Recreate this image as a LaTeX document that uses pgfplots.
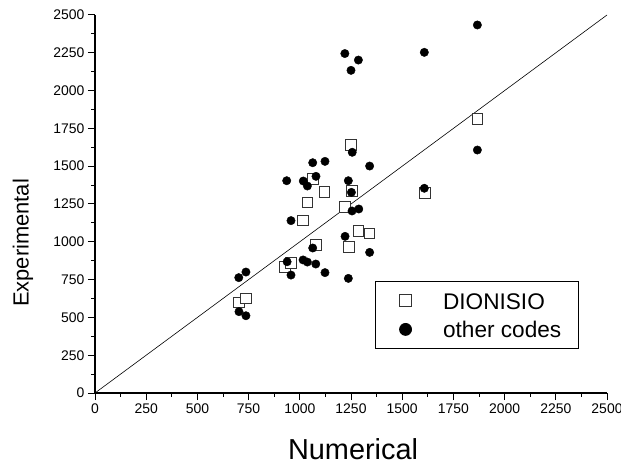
\documentclass[border=0pt]{standalone}
\usepackage{fontspec}
\setmainfont{Liberation Sans}
\usepackage{pgfplots}
\pgfplotsset{compat=1.18}
\begin{document}
\begin{tikzpicture}
\useasboundingbox (0,0) rectangle (621bp,464bp);
\begin{axis}[
  at={(95bp,71bp)}, anchor=south west,
  width=512bp, height=378bp, scale only axis,
  xmin=0, xmax=2500, ymin=0, ymax=2500,
  axis x line*=bottom, axis y line*=left,
  axis line style={line width=1.3bp},
  xtick={0,250,...,2500}, ytick={0,250,...,2500},
  minor tick num=1,
  tick align=outside,
  major tick length=7bp, minor tick length=3.7bp,
  every tick/.style={black, line width=1bp},
  scaled ticks=false,
  /pgf/number format/assume math mode=true,
  /pgf/number format/1000 sep={},
  tick label style={font=\fontsize{14}{16}\selectfont},
  xlabel={Numerical}, ylabel={Experimental},
  xlabel style={font=\fontsize{29}{32}\selectfont, at={(axis description cs:0.504,-0.148)}, anchor=center},
  ylabel style={font=\fontsize{22}{26}\selectfont, at={(axis description cs:-0.1406,0.397)}, anchor=center},
  legend style={at={(axis description cs:0.547,0.116)}, anchor=south west,
    draw=black, line width=1bp, inner xsep=10bp, inner ysep=5bp,
    font=\fontsize{22.7}{26}\selectfont,
    nodes={text height=16.5bp, text depth=0bp, inner ysep=6bp, inner xsep=7.5bp}},
  legend cell align=left,
  legend image code/.code={\path[draw=none,fill=none] (0bp,-6bp) (50bp,6bp); \draw[#1,mark size=6bp,line width=0.8bp] plot coordinates {(20bp,0bp)};},
]
\addplot[black, line width=0.6bp, forget plot] coordinates {(0,0) (2500,2500)};
\addplot[only marks, mark=square*, mark size=5.3bp, mark options={draw=black!80, fill=white, line width=0.9bp}] coordinates {
(703,600) (737,626) (928,835) (957,862) (1016,1140) (1037,1259) (1063,1417)
(1078,981) (1121,1331) (1219,1230) (1239,966) (1250,1640) (1255,1336)
(1286,1071) (1341,1056) (1611,1325) (1867,1812)
};
\addlegendentry{DIONISIO}
\addplot[only marks, mark=*, mark size=4.2bp, mark options={draw=black, fill=black}] coordinates {
(702,763) (737,800) (703,538) (737,511) (938,868) (957,780) (936,1404)
(957,1140) (1016,880) (1037,866) (1078,853) (1123,796) (1237,758)
(1063,959) (1221,1036) (1341,930) (1255,1204) (1288,1217) (1017,1402)
(1037,1369) (1079,1433) (1063,1523) (1123,1532) (1237,1404) (1252,1327)
(1256,1592) (1341,1501) (1220,2245) (1286,2202) (1250,2134) (1608,2253)
(1867,2434) (1867,1607) (1608,1354)
};
\addlegendentry{other codes}
\end{axis}
\end{tikzpicture}
\end{document}
